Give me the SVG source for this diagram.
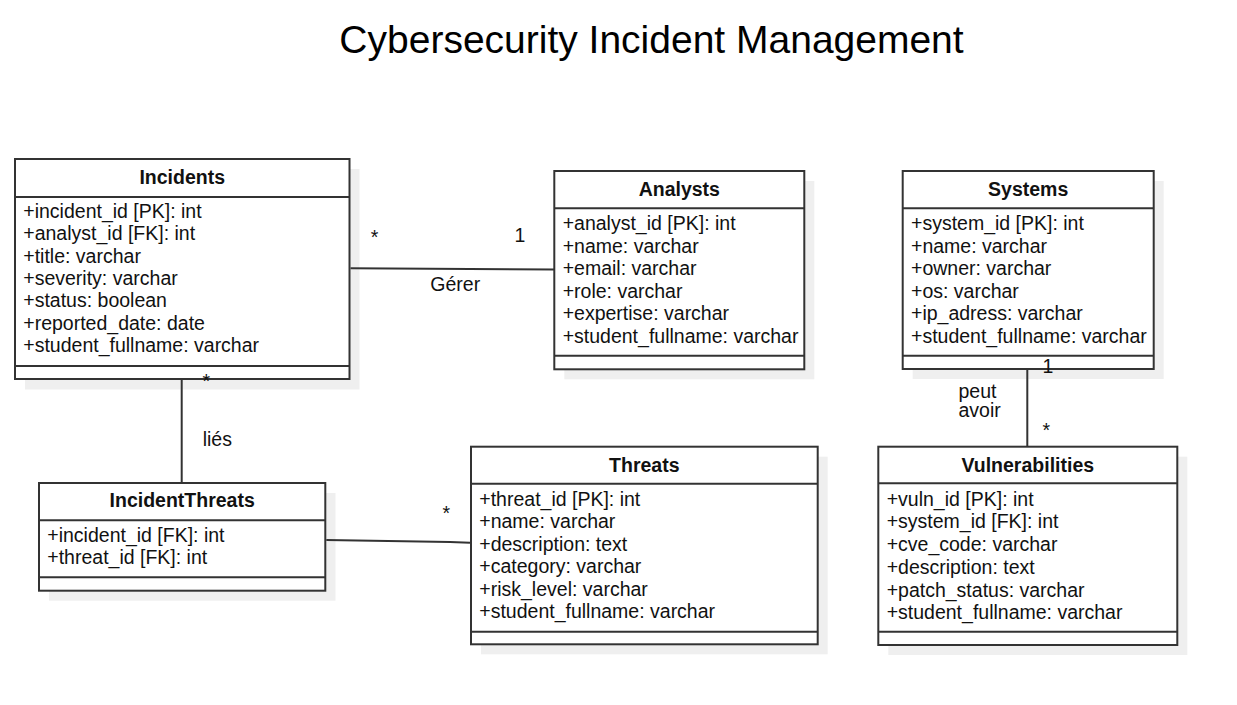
<svg xmlns="http://www.w3.org/2000/svg" width="1237" height="705" viewBox="0 0 1237 705">
<style>
.bg{fill:#ffffff}
.sh{fill:#efefef;stroke:none}
.box{fill:#ffffff;stroke:#333333;stroke-width:2}
.div{stroke:#333333;stroke-width:2;fill:none}
.hd{font-family:"Liberation Sans",Arial,sans-serif;font-size:19.5px;font-weight:bold;fill:#111111;text-anchor:middle}
.at{font-family:"Liberation Sans",Arial,sans-serif;font-size:19.5px;fill:#111111}
.lb{font-family:"Liberation Sans",Arial,sans-serif;font-size:19.5px;fill:#111111}
.mid{text-anchor:middle}
.ln{stroke:#333333;stroke-width:2;fill:none}
.ttl{font-family:"Liberation Sans",Arial,sans-serif;font-size:39px;fill:#000000;text-anchor:middle}
</style>
<rect class="bg" x="0" y="0" width="1237" height="705"/>
<text class="ttl" x="651.5" y="53">Cybersecurity Incident Management</text>

<g id="incidents">
  <rect class="sh" x="25" y="169" width="334.5" height="220.5"/>
  <rect class="box" x="15" y="159" width="334.5" height="220"/>
  <line class="div" x1="15" y1="197" x2="349.5" y2="197"/>
  <line class="div" x1="15" y1="366" x2="349.5" y2="366"/>
  <text class="hd" x="182.2" y="184">Incidents</text>
  <text class="at" x="23.3" y="217.7">+incident_id [PK]: int</text>
  <text class="at" x="23.3" y="240.1">+analyst_id [FK]: int</text>
  <text class="at" x="23.3" y="262.6">+title: varchar</text>
  <text class="at" x="23.3" y="285">+severity: varchar</text>
  <text class="at" x="23.3" y="307.4">+status: boolean</text>
  <text class="at" x="23.3" y="329.9">+reported_date: date</text>
  <text class="at" x="23.3" y="352.3">+student_fullname: varchar</text>
</g>

<g id="analysts">
  <rect class="sh" x="564.3" y="181" width="250" height="198.3"/>
  <rect class="box" x="554.3" y="171" width="250" height="198.3"/>
  <line class="div" x1="554.3" y1="208.3" x2="804.3" y2="208.3"/>
  <line class="div" x1="554.3" y1="355.7" x2="804.3" y2="355.7"/>
  <text class="hd" x="679.3" y="195.7">Analysts</text>
  <text class="at" x="562.7" y="230">+analyst_id [PK]: int</text>
  <text class="at" x="562.7" y="252.5">+name: varchar</text>
  <text class="at" x="562.7" y="275">+email: varchar</text>
  <text class="at" x="562.7" y="297.6">+role: varchar</text>
  <text class="at" x="562.7" y="320.1">+expertise: varchar</text>
  <text class="at" x="562.7" y="342.7">+student_fullname: varchar</text>
</g>

<g id="systems">
  <rect class="sh" x="912.7" y="181" width="251" height="198"/>
  <rect class="box" x="902.7" y="171" width="251" height="198"/>
  <line class="div" x1="902.7" y1="208.3" x2="1153.7" y2="208.3"/>
  <line class="div" x1="902.7" y1="355.7" x2="1153.7" y2="355.7"/>
  <text class="hd" x="1028.2" y="195.7">Systems</text>
  <text class="at" x="911" y="230">+system_id [PK]: int</text>
  <text class="at" x="911" y="252.5">+name: varchar</text>
  <text class="at" x="911" y="275">+owner: varchar</text>
  <text class="at" x="911" y="297.6">+os: varchar</text>
  <text class="at" x="911" y="320.1">+ip_adress: varchar</text>
  <text class="at" x="911" y="342.7">+student_fullname: varchar</text>
</g>

<g id="incidentthreats">
  <rect class="sh" x="49" y="493" width="286.5" height="107.7"/>
  <rect class="box" x="39" y="483" width="286.3" height="107.7"/>
  <line class="div" x1="39" y1="520.3" x2="325.3" y2="520.3"/>
  <line class="div" x1="39" y1="577.3" x2="325.3" y2="577.3"/>
  <text class="hd" x="182.2" y="507">IncidentThreats</text>
  <text class="at" x="47.3" y="541.7">+incident_id [FK]: int</text>
  <text class="at" x="47.3" y="564">+threat_id [FK]: int</text>
</g>

<g id="threats">
  <rect class="sh" x="481" y="456.7" width="346.7" height="197.6"/>
  <rect class="box" x="471" y="446.7" width="346.7" height="197.6"/>
  <line class="div" x1="471" y1="483.7" x2="817.7" y2="483.7"/>
  <line class="div" x1="471" y1="631.7" x2="817.7" y2="631.7"/>
  <text class="hd" x="644.3" y="471.7">Threats</text>
  <text class="at" x="479.3" y="505.7">+threat_id [PK]: int</text>
  <text class="at" x="479.3" y="528.2">+name: varchar</text>
  <text class="at" x="479.3" y="550.8">+description: text</text>
  <text class="at" x="479.3" y="573.3">+category: varchar</text>
  <text class="at" x="479.3" y="595.8">+risk_level: varchar</text>
  <text class="at" x="479.3" y="618.3">+student_fullname: varchar</text>
</g>

<g id="vulnerabilities">
  <rect class="sh" x="888.3" y="456.7" width="299" height="198.3"/>
  <rect class="box" x="878.3" y="446.7" width="299" height="198.3"/>
  <line class="div" x1="878.3" y1="483.3" x2="1177.3" y2="483.3"/>
  <line class="div" x1="878.3" y1="631.7" x2="1177.3" y2="631.7"/>
  <text class="hd" x="1027.8" y="471.7">Vulnerabilities</text>
  <text class="at" x="886.7" y="505.7">+vuln_id [PK]: int</text>
  <text class="at" x="886.7" y="528.4">+system_id [FK]: int</text>
  <text class="at" x="886.7" y="551.1">+cve_code: varchar</text>
  <text class="at" x="886.7" y="573.8">+description: text</text>
  <text class="at" x="886.7" y="596.5">+patch_status: varchar</text>
  <text class="at" x="886.7" y="619.2">+student_fullname: varchar</text>
</g>

<g id="connectors">
  <line class="ln" x1="350.5" y1="268.3" x2="554" y2="269.5"/>
  <text class="lb mid" x="374.5" y="243.5">*</text>
  <text class="lb mid" x="520" y="242.3">1</text>
  <text class="lb mid" x="455.3" y="290.5">Gérer</text>

  <line class="ln" x1="181.7" y1="380" x2="181.7" y2="483"/>
  <text class="lb mid" x="206.3" y="387.5">*</text>
  <text class="lb" x="202.7" y="446">liés</text>

  <polyline class="ln" points="326.3,540 450,542 470,542.7"/>
  <text class="lb mid" x="446.3" y="520">*</text>

  <line class="ln" x1="1027.3" y1="370" x2="1027.3" y2="446.7"/>
  <text class="lb mid" x="1048" y="373.3">1</text>
  <text class="lb" x="958.5" y="397.8"><tspan x="958.5">peut</tspan><tspan x="958.5" dy="18.9">avoir</tspan></text>
  <text class="lb mid" x="1046.3" y="436.6">*</text>
</g>
</svg>
